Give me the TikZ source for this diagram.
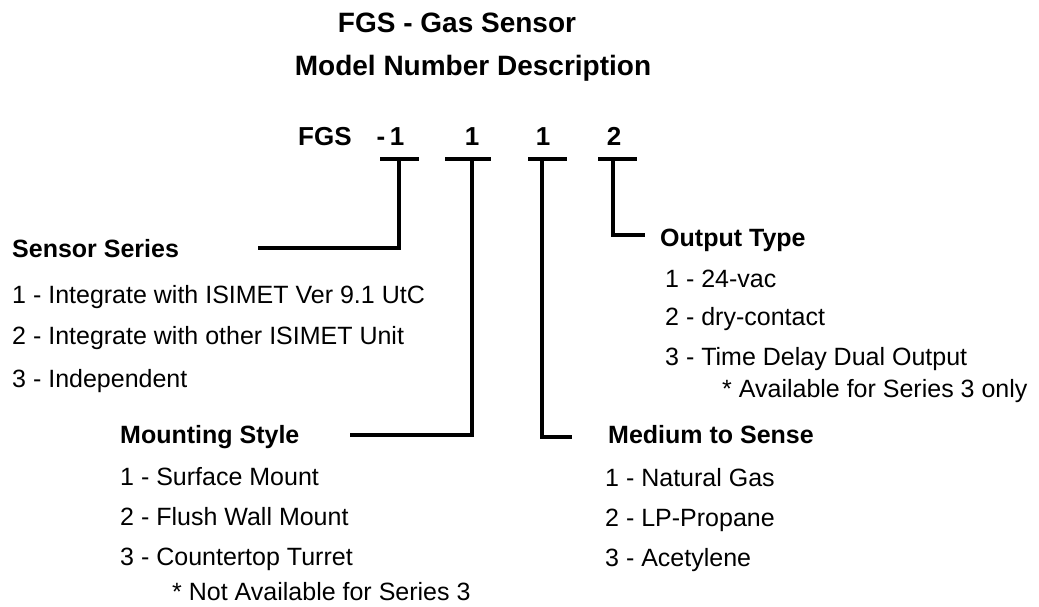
\documentclass[tikz,border=0pt]{standalone}
\usepackage{fontspec}
\setmainfont{Liberation Sans}
\usetikzlibrary{positioning}
\tikzstyle{titletext}=[font=\bfseries\fontsize{28}{32}\selectfont,anchor=base,inner sep=0pt]
\tikzstyle{codetext}=[font=\bfseries\fontsize{26}{30}\selectfont,anchor=base,inner sep=0pt]
\tikzstyle{heading}=[font=\bfseries\fontsize{25}{30}\selectfont,anchor=base west,inner sep=0pt]
\tikzstyle{option}=[font=\fontsize{25}{30}\selectfont,anchor=base west,inner sep=0pt]
\tikzstyle{bar} = [draw,line width=4pt]
\tikzstyle{lead} = [draw,line width=3.5pt]

\begin{document}
\begin{tikzpicture}[x=1pt,y=-1pt]
\useasboundingbox (0,0) rectangle (1039,607);

    % Title lines
    \node[titletext] (title) at (457,33) {FGS - Gas Sensor};
    \node[titletext] (subtitle) at (473,76) {Model Number Description};

    % Model number and its digits
    \node[codetext,anchor=base west] (prefix) at (298,146) {FGS};
    \node[codetext] (dash) at (381,146) {-};
    \foreach \pos/\name/\label in {{(397,146)/d1/1}, {(472,146)/d2/1}, {(543,146)/d3/1}, {(614,146)/d4/2}}
        \node[codetext] (\name) at \pos {\label};

    % Bars under the digits
    \foreach \name/\l/\r/\v in {d1/380/419/399, d2/445/491/472, d3/528/567/542, d4/598/637/613}
    {
        \coordinate (\name-left) at (\l,159);
        \coordinate (\name-right) at (\r,159);
        \coordinate (\name-top) at (\v,159);
        \path[bar] (\name-left) -- (\name-right);
    }

    % Field headings
    \node[heading] (series) at (12,257) {Sensor Series};
    \node[heading] (mounting) at (120,443) {Mounting Style};
    \node[heading] (medium) at (608,443) {Medium to Sense};
    \node[heading] (output) at (660,246) {Output Type};

    % Options of each field
    \foreach \pos/\name/\label in {{(12,303)/series1/1 - Integrate with ISIMET Ver 9.1 UtC}, {(12,344)/series2/2 - Integrate with other ISIMET Unit}, {(12,387)/series3/3 - Independent},
        {(120,485)/mounting1/1 - Surface Mount}, {(120,525)/mounting2/2 - Flush Wall Mount}, {(120,565)/mounting3/3 - Countertop Turret}, {(172,600)/mountingnote/* Not Available for Series 3},
        {(605,486)/medium1/1 - Natural Gas}, {(605,526)/medium2/2 - LP-Propane}, {(605,566)/medium3/3 - Acetylene},
        {(665,287)/output1/1 - 24-vac}, {(665,325)/output2/2 - dry-contact}, {(665,365)/output3/3 - Time Delay Dual Output}, {(722,397)/outputnote/* Available for Series 3 only}}
        \node[option] (\name) at \pos {\label};

    % Leads from the digits to the headings
    \coordinate (series-end) at (258,248);
    \coordinate (mounting-end) at (350,435);
    \coordinate (medium-end) at (572,437);
    \coordinate (output-end) at (645,235);
    \foreach \source/\dest in {d1/series, d2/mounting, d3/medium, d4/output}
        \path[lead] (\source-top) |- (\dest-end);

\end{tikzpicture}
\end{document}
